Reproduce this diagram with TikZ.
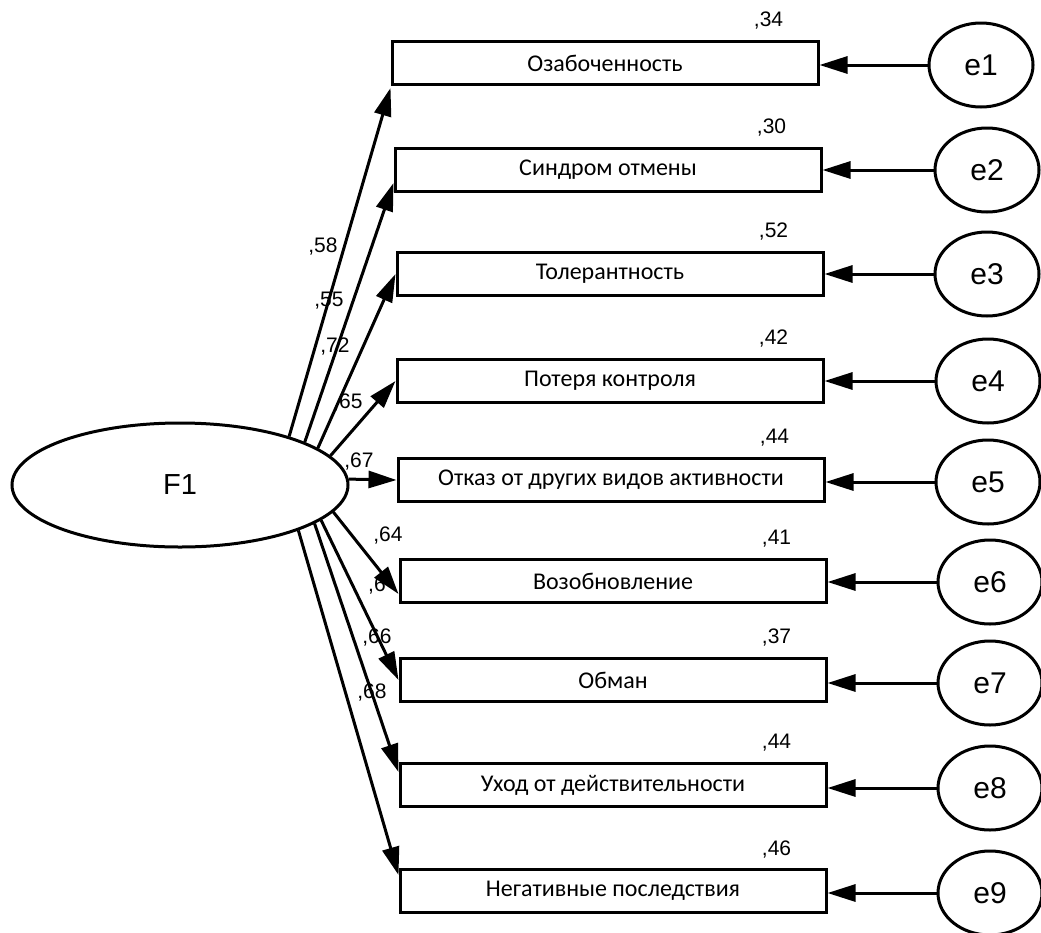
\documentclass[tikz,border=0pt]{standalone}
\usepackage{fontspec}
\setmainfont{Liberation Sans}
\newfontfamily\boxfont{Carlito}
\usetikzlibrary{shapes.geometric,arrows.meta,calc}
\begin{document}
\begin{tikzpicture}[x=1pt,y=-1pt,
  line width=3pt,
  obs/.style={draw, rectangle, minimum width=426pt, minimum height=43pt, inner sep=0pt, font=\boxfont\fontsize{24}{28}\selectfont},
  err/.style={draw, ellipse, minimum width=104pt, minimum height=84pt, inner sep=0pt, font=\fontsize{30}{34}\selectfont},
  lat/.style={draw, ellipse, minimum width=336pt, minimum height=124pt, inner sep=0pt, font=\fontsize{29}{33}\selectfont},
  load/.style={-{Triangle[length=28pt,width=17pt]}},
  coef/.style={font=\fontsize{21}{24}\selectfont, inner sep=0pt}
]
\fill[white] (0,0) rectangle (1041,932);
\useasboundingbox (0,0) rectangle (1041,932);

\node[lat] (F1) at (180,485) {F1};

\node[obs] (b1) at (605,63) {Озабоченность};
\node[obs] (b2) at (608,170) {Синдром отмены};
\node[obs] (b3) at (610,274) {Толерантность};
\node[obs] (b4) at (610,381) {Потеря контроля};
\node[obs] (b5) at (611,480) {Отказ от других видов активности};
\node[obs] (b6) at (613,581) {Возобновление};
\node[obs] (b7) at (613,680) {Обман};
\node[obs] (b8) at (613,785) {Уход от действительности};
\node[obs] (b9) at (613,891) {Негативные последствия};

\node[err] (e1) at (981,65) {e1};
\node[err] (e2) at (987,170) {e2};
\node[err] (e3) at (987,274) {e3};
\node[err] (e4) at (988,381) {e4};
\node[err] (e5) at (988,482) {e5};
\node[err] (e6) at (990,582) {e6};
\node[err] (e7) at (990,683) {e7};
\node[err] (e8) at (990,788) {e8};
\node[err] (e9) at (990,893) {e9};

\foreach \i in {1,...,9}{
  \draw[load] (e\i.west) -- (e\i.west -| b\i.east);
}

\draw[load] (F1.24) -- ([yshift=-2pt]b1.south west);
\draw[load] (F1.19.5) -- ([yshift=10pt]b2.south west);
\draw[load] (F1.15.3) -- (b3.west);
\draw[load] (F1.11) -- (b4.west);
\draw[load] (F1.2) -- (b5.west);
\draw[load] (F1.-10) -- ([yshift=10pt]b6.south west);
\draw[load] (F1.-14.2) -- (b7.west);
\draw[load] (F1.-16.9) -- ([yshift=-10pt]b8.north west);
\draw[load] (F1.-21.4) -- ([yshift=-7pt]b9.north west);

\node[coef] (l1) at (323,247) {,58};
\node[coef] (l2) at (329,301) {,55};
\node[coef] (l3) at (335,347) {,72};
\node[coef] (l4) at (348,403) {,65};
\node[coef] (l5) at (359,462) {,67};
\node[coef] (l6) at (388,536) {,64};
\node[coef] (l7) at (377,586) {,6};
\node[coef] (l8) at (377,638) {,66};
\node[coef] (l9) at (372,692) {,68};

\node[coef] (r1) at ([xshift=-51pt,yshift=19pt]b1.north east) {,34};
\node[coef] (r2) at ([xshift=-51pt,yshift=19pt]b2.north east) {,30};
\node[coef] (r3) at ([xshift=-51pt,yshift=19pt]b3.north east) {,52};
\node[coef] (r4) at ([xshift=-51pt,yshift=19pt]b4.north east) {,42};
\node[coef] (r5) at ([xshift=-51pt,yshift=19pt]b5.north east) {,44};
\node[coef] (r6) at ([xshift=-51pt,yshift=19pt]b6.north east) {,41};
\node[coef] (r7) at ([xshift=-51pt,yshift=19pt]b7.north east) {,37};
\node[coef] (r8) at ([xshift=-51pt,yshift=19pt]b8.north east) {,44};
\node[coef] (r9) at ([xshift=-51pt,yshift=19pt]b9.north east) {,46};
\end{tikzpicture}
\end{document}
